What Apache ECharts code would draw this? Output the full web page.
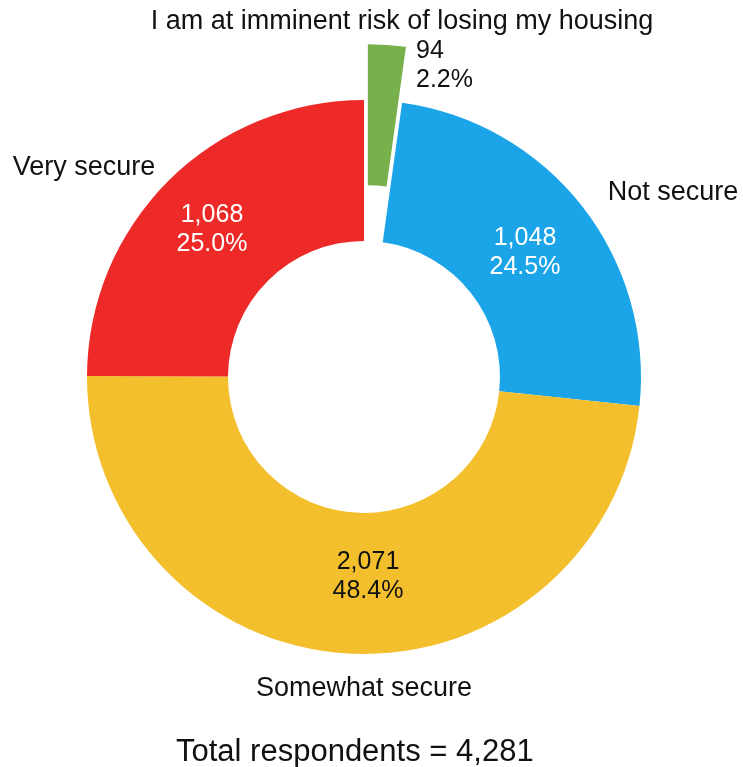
<!DOCTYPE html>
<html>
<head>
<meta charset="utf-8">
<script src="https://cdn.jsdelivr.net/npm/echarts@6/dist/echarts.min.js"></script>
<style>
  html, body { margin: 0; padding: 0; background: #ffffff; }
  #chart { width: 743px; height: 767px; }
</style>
</head>
<body>
<div id="chart"></div>
<script>
// Housing security survey responses, clockwise from 12 o'clock
const categories = [
  'I am at imminent risk of losing my housing',
  'Not secure',
  'Somewhat secure',
  'Very secure'
];
const counts = [94, 1048, 2071, 1068];
const sharesPct = ['2.2%', '24.5%', '48.4%', '25.0%'];
const sliceColors = ['#78B04B', '#1BA4E7', '#F4BF2D', '#EE2A29'];
const valueTextColors = ['#111111', '#ffffff', '#111111', '#ffffff'];
const totalLabel = 'Total respondents = 4,281';

const FONT = '"Liberation Sans", Arial, Helvetica, sans-serif';
const fmt = n => n.toLocaleString('en-US');
const valueText = i => fmt(counts[i]) + '\n' + sharesPct[i];

// Text anchors for the value labels (count + share) and the category names
const valueLabelPos = [
  { x: 416, y: 66, align: 'left' },
  { x: 525, y: 253, align: 'center' },
  { x: 368, y: 577, align: 'center' },
  { x: 212, y: 230, align: 'center' }
];
const nameLabelPos = [
  { x: 402, y: 22, align: 'center' },
  { x: 673, y: 193, align: 'center' },
  { x: 364, y: 689, align: 'center' },
  { x: 84, y: 168, align: 'center' }
];

const CENTER = [364, 377];
const RADIUS = [136, 277];

// Drawn slices; the small "imminent risk" slice is pulled out of the ring
const sliceData = categories.map((name, i) => ({
  name,
  value: counts[i],
  selected: i === 0,
  itemStyle: { color: sliceColors[i] },
  label: { show: i !== 0, color: valueTextColors[i] }
}));

// Invisible copies of the ring that only carry text
const ghost = (showFn) => categories.map((name, i) => ({
  name,
  value: counts[i],
  itemStyle: { color: 'rgba(0,0,0,0)' },
  label: { show: showFn(i) }
}));

const placeAt = table => p => ({
  x: table[p.dataIndex].x,
  y: table[p.dataIndex].y,
  align: table[p.dataIndex].align,
  verticalAlign: 'middle'
});

const baseRing = {
  type: 'pie',
  center: CENTER,
  radius: RADIUS,
  startAngle: 90,
  clockwise: true,
  avoidLabelOverlap: false,
  emphasis: { disabled: true },
  labelLine: { show: false }
};

const chart = echarts.init(document.getElementById('chart'), null, { renderer: 'canvas' });

chart.setOption({
  backgroundColor: '#ffffff',
  animation: false,
  title: {
    text: totalLabel,
    left: 171,
    top: 732,
    textStyle: { fontFamily: FONT, fontSize: 31, fontWeight: 'normal', color: '#111111' }
  },
  series: [
    Object.assign({}, baseRing, {
      selectedMode: 'single',
      selectedOffset: 56,
      itemStyle: { borderWidth: 0 },
      label: {
        position: 'inside',
        fontFamily: FONT,
        fontSize: 25,
        lineHeight: 29,
        formatter: p => valueText(p.dataIndex)
      },
      labelLayout: placeAt(valueLabelPos),
      data: sliceData
    }),
    Object.assign({}, baseRing, {
      silent: true,
      label: {
        position: 'outside',
        fontFamily: FONT,
        fontSize: 25,
        lineHeight: 29,
        color: '#111111',
        formatter: p => valueText(p.dataIndex)
      },
      labelLayout: placeAt(valueLabelPos),
      data: ghost(i => i === 0)
    }),
    Object.assign({}, baseRing, {
      silent: true,
      label: {
        position: 'outside',
        fontFamily: FONT,
        fontSize: 27,
        color: '#111111',
        formatter: p => p.name
      },
      labelLayout: placeAt(nameLabelPos),
      data: ghost(() => true)
    })
  ]
});
</script>
</body>
</html>
